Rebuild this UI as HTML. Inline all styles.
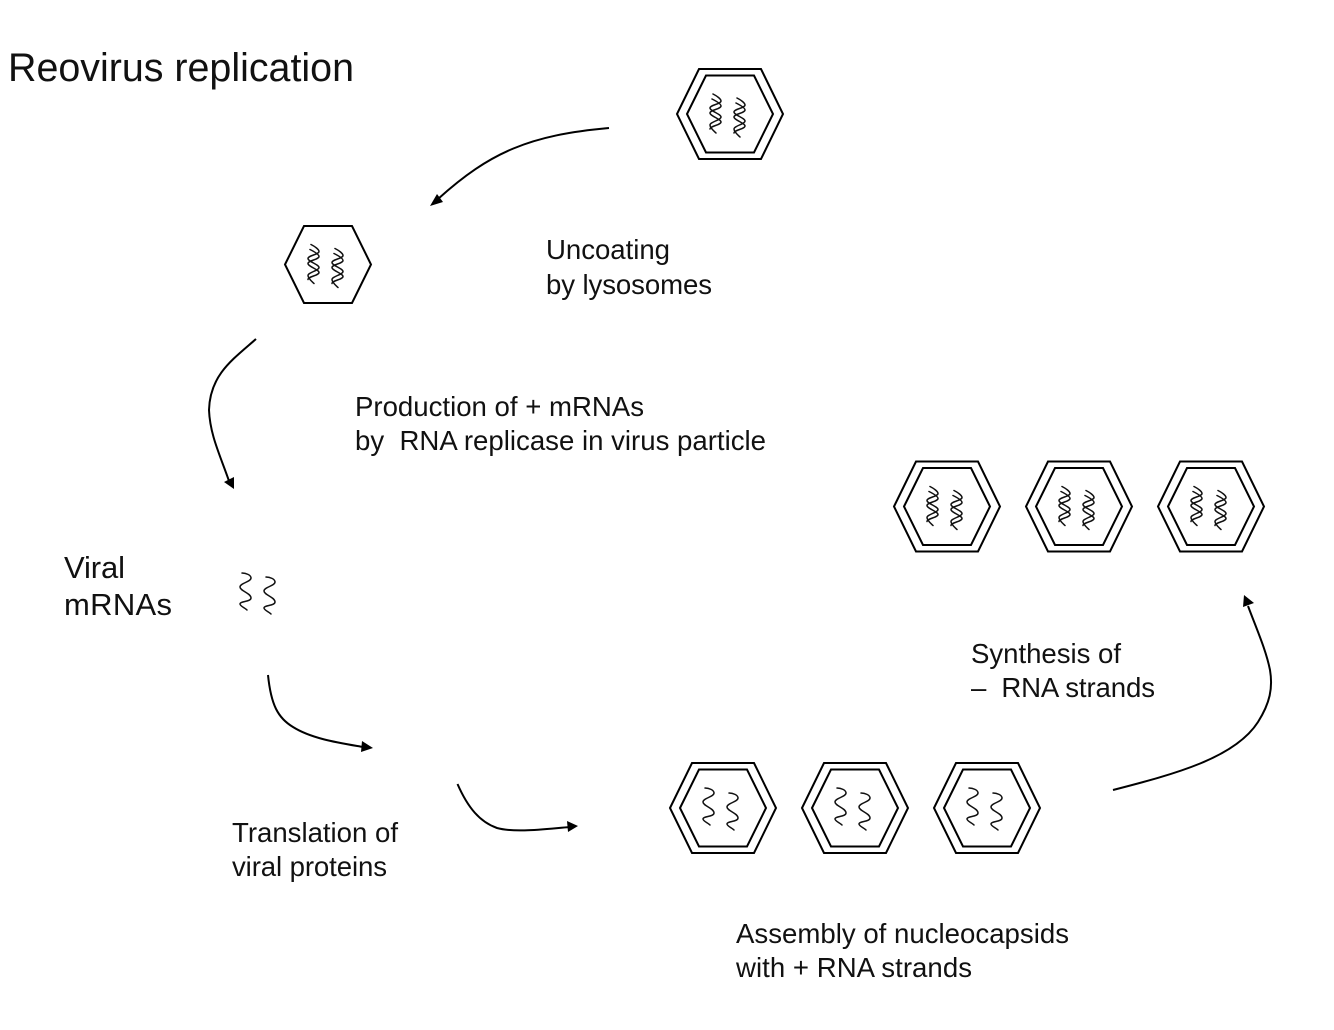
<!DOCTYPE html>
<html lang="en">
<head>
<meta charset="utf-8">
<title>Reovirus replication</title>
<style>
html,body{margin:0;padding:0;background:#fff;width:1334px;height:1030px;overflow:hidden}
svg{display:block}
text{font-family:"Liberation Sans",Arial,sans-serif;fill:#111;white-space:pre}
.l{font-size:27.6px}
.m{font-size:31px}
.t{font-size:39.4px}
.ln{fill:none;stroke:#000;stroke-width:2}
.w{fill:none;stroke:#111;stroke-width:1.5;stroke-linecap:round;stroke-linejoin:round}
</style>
</head>
<body>
<svg width="1334" height="1030" viewBox="0 0 1334 1030" xmlns="http://www.w3.org/2000/svg">
<defs>
  <polygon id="hexI" class="ln" points="-43,0 -24,-38.5 24,-38.5 43,0 24,38.5 -24,38.5"/>
  <polygon id="hexO" class="ln" points="-53,0 -31,-45 31,-45 53,0 31,45 -31,45"/>
  <g id="helix1">
    <path class="w" d="M0 0 C4 2 8 5 8 7 C8 10 -3 11 -3 14 C-3 17 8 20 8 23 C8 26 -3 28 -3 31 C-3 34 1 37 3 39"/>
    <path class="w" d="M-1 5 C3 7 8 10 8 12 C8 15 -3 16 -3 19 C-3 22 8 25 8 28 C8 31 -3 32 -3 35"/>
  </g>
  <g id="dna">
    <use href="#helix1" x="-17" y="-20"/>
    <use href="#helix1" x="7" y="-16"/>
  </g>
  <g id="wave1">
    <path class="w" d="M0 0 C4 0 9 2 9 5 C9 9 -2 10 -2 14 C-2 18 9 20 9 25 C9 29 -2 28 -2 31 C-2 33 3 35 5 37"/>
  </g>
  <g id="rna">
    <use href="#wave1" x="-18" y="-20"/>
    <use href="#wave1" x="6" y="-15"/>
  </g>
  <g id="full"><use href="#hexO"/><use href="#hexI"/></g>
</defs>

<rect width="1334" height="1030" fill="#fff"/>

<text class="t" x="8" y="81" textLength="346" lengthAdjust="spacing">Reovirus replication</text>

<!-- top virion -->
<g transform="translate(730,114)"><use href="#full"/><use href="#dna"/></g>
<!-- uncoated -->
<g transform="translate(328,264.5)"><use href="#hexI"/><use href="#dna"/></g>
<!-- dsRNA row -->
<g transform="translate(947,506.5)"><use href="#full"/><use href="#dna"/></g>
<g transform="translate(1079,506.5)"><use href="#full"/><use href="#dna"/></g>
<g transform="translate(1211,506.5)"><use href="#full"/><use href="#dna"/></g>
<!-- +RNA row -->
<g transform="translate(723,808)"><use href="#full"/><use href="#rna"/></g>
<g transform="translate(855,808)"><use href="#full"/><use href="#rna"/></g>
<g transform="translate(987,808)"><use href="#full"/><use href="#rna"/></g>
<!-- free mRNAs -->
<use href="#wave1" x="242" y="573"/>
<use href="#wave1" x="266" y="577"/>

<!-- arrows -->
<path class="ln" d="M609 128 C530 135 490 152 438 199"/>
<polygon points="430,206 437,194 443,202" fill="#000"/>
<path class="ln" d="M256 339 C232 360 210 375 209 410 C210 435 220 455 229 481"/>
<polygon points="234,489 224,482 234,477" fill="#000"/>
<path class="ln" d="M268 675 C271 705 278 718 293 727 C312 739 340 743 363 747"/>
<polygon points="373,748 362,741 361,752" fill="#000"/>
<path class="ln" d="M457.5 784 C468 808 480 822 497 828 C515 833 545 829 570 827"/>
<polygon points="578,826 567,821 568,832" fill="#000"/>
<path class="ln" d="M1113 790 C1175 774 1235 758 1258 722 C1270 703 1273 688 1270 670 C1266 650 1257 630 1248 606"/>
<polygon points="1244,595 1243,607 1254,603" fill="#000"/>

<!-- labels -->
<text class="l" x="546" y="259" textLength="124" lengthAdjust="spacing">Uncoating</text>
<text class="l" x="546" y="294" textLength="166" lengthAdjust="spacing">by lysosomes</text>
<text class="l" x="355" y="416" textLength="289" lengthAdjust="spacing">Production of + mRNAs</text>
<text class="l" x="355" y="450" textLength="411" lengthAdjust="spacing">by  RNA replicase in virus particle</text>
<text class="m" x="64" y="578" textLength="61" lengthAdjust="spacing">Viral</text>
<text class="m" x="64" y="615" textLength="108" lengthAdjust="spacing">mRNAs</text>
<text class="l" x="971" y="663" textLength="150" lengthAdjust="spacing">Synthesis of</text>
<text class="l" x="971" y="697" textLength="184" lengthAdjust="spacing">–  RNA strands</text>
<text class="l" x="232" y="842" textLength="166" lengthAdjust="spacing">Translation of</text>
<text class="l" x="232" y="876" textLength="155" lengthAdjust="spacing">viral proteins</text>
<text class="l" x="736" y="943" textLength="333" lengthAdjust="spacing">Assembly of nucleocapsids</text>
<text class="l" x="736" y="977" textLength="236" lengthAdjust="spacing">with + RNA strands</text>
</svg>
</body>
</html>
